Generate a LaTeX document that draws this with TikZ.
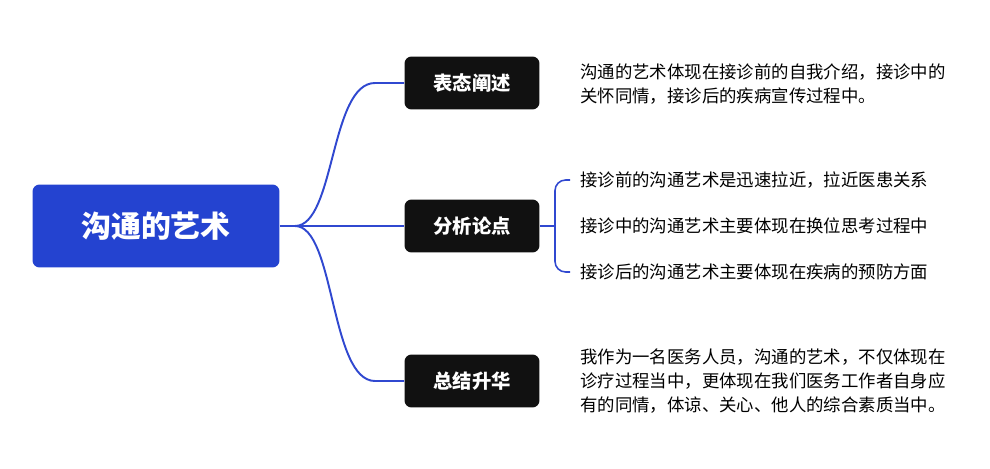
\documentclass[tikz,border=0pt]{standalone}
\usepackage{fontspec}
\setmainfont{Noto Sans CJK SC}
\usetikzlibrary{positioning}
\definecolor{rootblue}{HTML}{2443D0}
\definecolor{linkblue}{HTML}{3048D0}
\definecolor{topicblack}{HTML}{111111}
\tikzset{
  rootbox/.style={fill=rootblue, rounded corners=4pt, text=white, font=\fontsize{17}{20}\selectfont\bfseries, minimum width=4.94cm, minimum height=1.66cm},
  topicbox/.style={fill=topicblack, rounded corners=4pt, text=white, font=\fontsize{11}{13}\selectfont\bfseries, minimum width=2.7cm, minimum height=1.06cm},
  leaf/.style={anchor=west, align=left, font=\fontsize{9.9}{13.8}\selectfont, text=black, inner sep=0pt},
  link/.style={draw=linkblue, line width=1.1pt}
}
\begin{document}
\begin{tikzpicture}[x=0.02cm, y=-0.02cm]
		\useasboundingbox (0,0) rectangle (990,469);
		\node[rootbox] (root) at (156,226) {沟通的艺术};
		\node[topicbox] (t1) at (472,83) {表态阐述};
		\node[topicbox] (t2) at (472,226) {分析论点};
		\node[topicbox] (t3) at (472,381) {总结升华};
		\coordinate (fork) at (295,226);
		\draw[link] (root.east) -- (fork);
		\draw[link] (fork) .. controls (335,226) and (330,83) .. (375,83) -- (t1.west);
		\draw[link] (fork) -- (t2.west);
		\draw[link] (fork) .. controls (335,226) and (330,381) .. (375,381) -- (t3.west);
		% leaves
		\node[leaf] (l1) at (580,84) {沟通的艺术体现在接诊前的自我介绍，接诊中的\\关怀同情，接诊后的疾病宣传过程中。};
		\node[leaf] (l2a) at (580,180) {接诊前的沟通艺术是迅速拉近，拉近医患关系};
		\node[leaf] (l2b) at (580,226) {接诊中的沟通艺术主要体现在换位思考过程中};
		\node[leaf] (l2c) at (580,272) {接诊后的沟通艺术主要体现在疾病的预防方面};
		\node[leaf] (l3) at (580,381) {我作为一名医务人员，沟通的艺术，不仅体现在\\诊疗过程当中，更体现在我们医务工作者自身应\\有的同情，体谅、关心、他人的综合素质当中。};
		\coordinate (brace) at (555,226);
		\draw[link, line width=0.9pt] (t2.east) -- (brace);
		\draw[link, line width=0.9pt, rounded corners=6pt] (l2a.west) ++(-10,0) -- (555,180) -- (555,272) -- ++(15,0);
\end{tikzpicture}
\end{document}
